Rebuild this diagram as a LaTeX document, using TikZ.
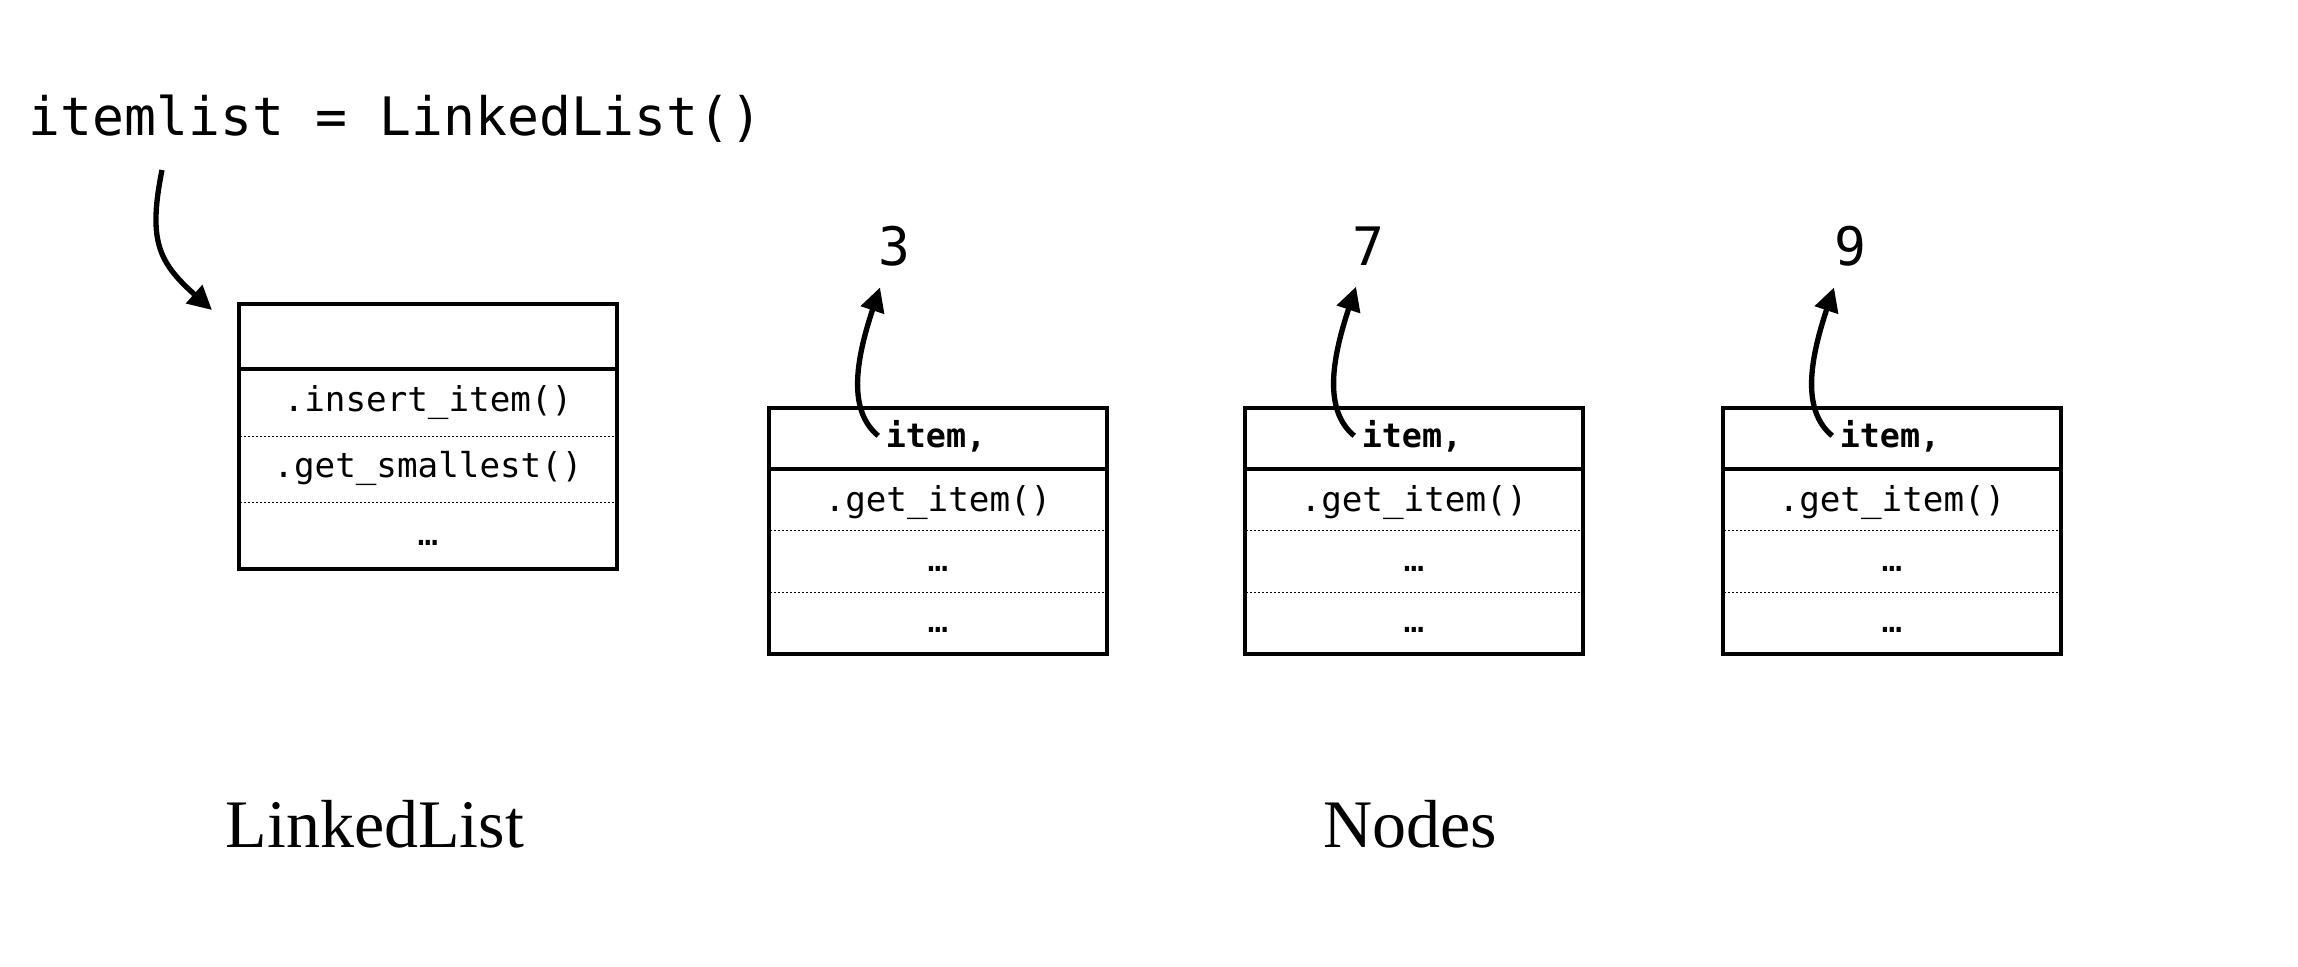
\documentclass[tikz,border=0pt]{standalone}
\usepackage{fontspec}
\setmainfont{Liberation Serif}
\newfontfamily\monof{DejaVu Sans Mono}
\usetikzlibrary{arrows.meta,calc}
\begin{document}
\begin{tikzpicture}[x=0.3pt,y=-0.3pt,
  box/.style={draw, line width=0.95pt, inner sep=0pt, outer sep=0pt},
  sepline/.style={line width=0.95pt},
  dotsep/.style={line width=0.3pt, dash pattern=on 0.6pt off 0.6pt},
  bigcode/.style={font=\monof\fontsize{15.9pt}{18pt}\selectfont, inner sep=0pt},
  smallcode/.style={font=\monof\fontsize{10.27pt}{12pt}\selectfont, inner sep=0pt, anchor=base},
  boldcode/.style={font=\monof\bfseries\fontsize{10pt}{12pt}\selectfont, inner sep=0pt, anchor=base},
  caption/.style={font=\fontsize{20.4pt}{24pt}\selectfont, inner sep=0pt, anchor=base},
  ptr/.style={line width=1.6pt, -{Triangle[length=7.2pt,width=7.1pt]}},
]
\useasboundingbox (0,0) rectangle (2298,966);

% top code line
\node[bigcode, anchor=base west] (code) at (28,135) {itemlist = LinkedList()};

% LinkedList box
\node[box, anchor=north west, minimum width=113.4pt, minimum height=79.5pt] (ll) at (239,304) {};
\draw[sepline] (239,369) -- (617,369);
\draw[dotsep] (240,436) -- (616,436);
\draw[dotsep] (240,502) -- (616,502);
\node[smallcode] (llm1) at (428,411) {.insert\_item()};
\node[smallcode] (llm2) at (428,477) {.get\_smallest()};
\node[smallcode] (llm3) at (428,545) {…};

\draw[ptr] ($(code.base west)+(134,35)$) .. controls +(-14,70) and +(-54,-48) .. ($(ll.north west)+(-27,6)$);

% node boxes
\newcommand\nodebox[5]{%
  \node[box, anchor=north west, minimum width=101.4pt, minimum height=73.8pt] (#1) at (#2,408) {};
  \draw[sepline] (#2,469) -- ($(#2,469)+(338,0)$);
  \draw[dotsep] ($(#2,530)+(1,0)$) -- ($(#2,530)+(337,0)$);
  \draw[dotsep] ($(#2,592)+(1,0)$) -- ($(#2,592)+(337,0)$);
  \node[boldcode] (i#1) at ($(#2,447)+(167,0)$) {item,};
  \node[smallcode] (g#1) at ($(#2,511)+(169,0)$) {.get\_item()};
  \node[smallcode] (e#1) at ($(#2,571)+(169,0)$) {…};
  \node[smallcode] (f#1) at ($(#2,632)+(169,0)$) {…};
  \node[bigcode, anchor=base] (d#1) at (#4,265) {#3};
  \draw[ptr] ($(i#1.west)+(-7,0)$) .. controls +(-30,-25) and +(-25,75) .. ($(d#1.south)+(#5,21)$);
}
\nodebox{nA}{769}{3}{894}{-14}
\nodebox{nB}{1245}{7}{1368}{-12}
\nodebox{nC}{1723}{9}{1850}{-16}

% captions
\node[caption] (cap1) at (375,847) {LinkedList};
\node[caption] (cap2) at (1410,847) {Nodes};
\end{tikzpicture}
\end{document}
